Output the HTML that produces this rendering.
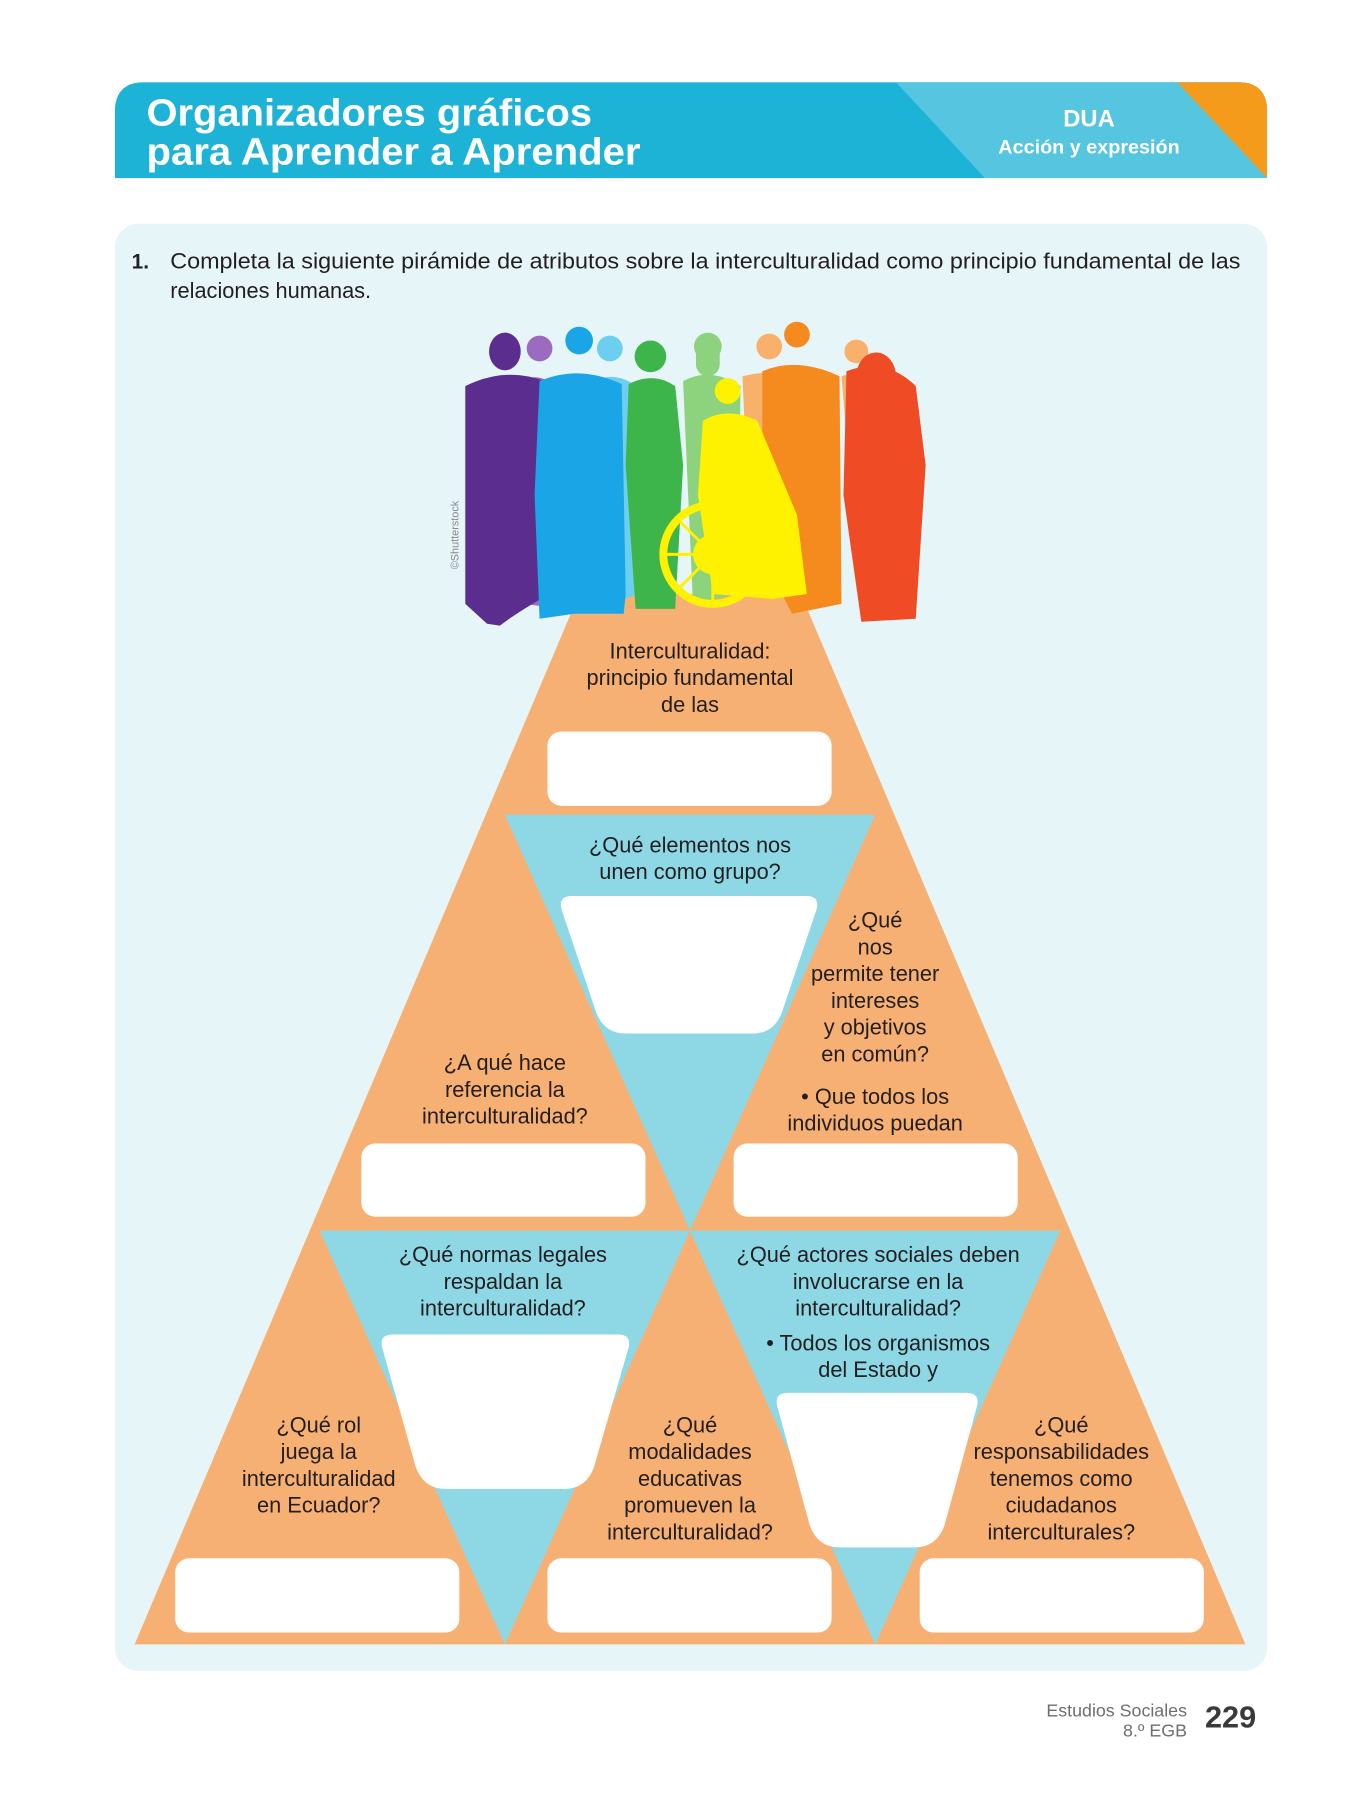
<!DOCTYPE html>
<html><head><meta charset="utf-8"><style>
html,body{margin:0;padding:0;background:#fff;}
svg{display:block;}
text{font-family:"Liberation Sans Narrow","Liberation Sans",sans-serif;fill:#231f20;}
</style></head><body>
<svg width="1350" height="1800" viewBox="0 0 1350 1800" xmlns="http://www.w3.org/2000/svg">
<g transform="scale(0.99)">
<defs><clipPath id="hc"><path d="M116 180 V113 Q116 83 146 83 H1250 Q1280 83 1280 113 V180 Z"/></clipPath></defs>
<g clip-path="url(#hc)">
<rect x="116" y="83" width="1164" height="97" fill="#1db3d6"/>
<polygon points="905,83 1280,83 1280,180 995,180" fill="#55c5e0"/>
<polygon points="1189,83 1280,83 1280,180" fill="#f59b1c"/>
</g>
<text x="148" y="127" font-size="38" font-weight="bold" textLength="450" lengthAdjust="spacingAndGlyphs" style="fill:#fff;font-family:'Liberation Sans',sans-serif">Organizadores gráficos</text>
<text x="148" y="166" font-size="38" font-weight="bold" textLength="499" lengthAdjust="spacingAndGlyphs" style="fill:#fff;font-family:'Liberation Sans',sans-serif">para Aprender a Aprender</text>
<text x="1100" y="128" font-size="24" font-weight="bold" text-anchor="middle" style="fill:#fff;font-family:'Liberation Sans',sans-serif">DUA</text>
<text x="1100" y="155" font-size="20" font-weight="bold" text-anchor="middle" style="fill:#fff;font-family:'Liberation Sans',sans-serif">Acción y expresión</text>

<rect x="116" y="226" width="1164" height="1462" rx="24" fill="#e6f5f8"/>
<text x="133" y="271" font-size="21" font-weight="bold" style="font-family:'Liberation Sans',sans-serif">1.</text>
<text x="172" y="271" font-size="22" textLength="1081" lengthAdjust="spacingAndGlyphs">Completa la siguiente pirámide de atributos sobre la interculturalidad como principio fundamental de las</text>
<text x="172" y="301" font-size="22">relaciones humanas.</text>

<polygon points="585,600 809,600 1258,1661 136,1661" fill="#f7b074"/>
<polygon points="510,823 884,823 697,1243" fill="#8ed8e6"/>
<polygon points="323,1243 697,1243 510,1661" fill="#8ed8e6"/>
<polygon points="697,1243 1071,1243 884,1661" fill="#8ed8e6"/>

<g fill="#fff">
<rect x="553" y="739" width="287" height="75" rx="14"/>
<rect x="365" y="1155" width="287" height="74" rx="14"/>
<rect x="741" y="1155" width="287" height="74" rx="14"/>
<rect x="177" y="1574" width="287" height="75" rx="14"/>
<rect x="553" y="1574" width="287" height="75" rx="14"/>
<rect x="929" y="1574" width="287" height="75" rx="14"/>
<path d="M578 905 H814 Q828 905 825 918 L790 1022 Q782 1044 760 1044 H632 Q610 1044 602 1022 L567 918 Q564 905 578 905 Z"/>
<path d="M397 1348 H624 Q638 1348 635 1361 L600 1482 Q592 1504 570 1504 H450 Q428 1504 420 1482 L386 1361 Q383 1348 397 1348 Z"/>
<path d="M796 1407 H976 Q990 1407 987 1420 L954 1541 Q946 1563 924 1563 H848 Q826 1563 818 1541 L785 1420 Q782 1407 796 1407 Z"/>
</g>

<g>
<path d="M525 385 Q545 375 560 390 L565 600 L545 612 L528 610 Z" fill="#9b6bc0"/><circle cx="545" cy="352" r="13" fill="#9b6bc0"/>
<path d="M600 385 Q620 375 640 388 L645 600 L610 612 L600 600 Z" fill="#6ccff0"/><circle cx="616" cy="352" r="13" fill="#6ccff0"/>
<path d="M690 385 Q718 370 748 390 L745 600 L700 610 Z" fill="#8dd27c"/><circle cx="715" cy="350" r="14" fill="#8dd27c"/><rect x="703" y="340" width="24" height="40" rx="12" fill="#8dd27c"/>
<path d="M750 380 Q790 370 800 390 L805 610 L760 610 Z" fill="#f9b06a"/><circle cx="777" cy="350" r="13" fill="#f9b06a"/>
<path d="M850 380 Q880 370 905 400 L915 610 L870 620 Z" fill="#f9b06a"/><circle cx="865" cy="355" r="12" fill="#f9b06a"/>
<path d="M470 390 Q510 370 550 385 L560 430 L555 600 Q520 620 505 632 L492 630 L470 610 Z" fill="#5b2d8e"/><ellipse cx="510" cy="355" rx="16" ry="19" fill="#5b2d8e"/>
<path d="M545 385 Q585 368 628 388 L632 600 L630 620 L580 620 L545 625 L540 500 Z" fill="#1aa6e6"/><circle cx="585" cy="344" r="14" fill="#1aa6e6"/>
<path d="M635 388 Q660 375 682 390 L690 470 L682 615 L642 615 L632 470 Z" fill="#3db54a"/><circle cx="657" cy="360" r="16" fill="#3db54a"/>
<path d="M770 375 Q805 360 848 380 L850 610 L800 620 L770 560 Z" fill="#f58a1f"/><circle cx="805" cy="338" r="13" fill="#f58a1f"/>
<path d="M855 375 Q895 360 925 390 L935 470 L925 625 L870 628 L852 500 Z" fill="#ef4b25"/><ellipse cx="885" cy="380" rx="20" ry="24" fill="#ef4b25"/>
<path d="M710 425 Q735 410 765 425 L805 520 L815 600 L780 605 L720 600 L705 500 Z" fill="#fff200"/><circle cx="735" cy="395" r="13" fill="#fff200"/>
<circle cx="720" cy="560" r="50" fill="none" stroke="#fff200" stroke-width="8"/><circle cx="720" cy="560" r="20" fill="#fff200"/>
<g stroke="#fff200" stroke-width="3"><line x1="670" y1="560" x2="770" y2="560"/><line x1="720" y1="510" x2="720" y2="610"/><line x1="685" y1="525" x2="755" y2="595"/><line x1="755" y1="525" x2="685" y2="595"/></g>
</g>
<text transform="translate(463,575) rotate(-90)" font-size="11" style="fill:#888;font-family:'Liberation Sans',sans-serif">©Shutterstock</text>

<g font-size="22" text-anchor="middle">
<text x="697" y="665">Interculturalidad:</text>
<text x="697" y="692">principio fundamental</text>
<text x="697" y="719">de las</text>
<text x="697" y="861">¿Qué elementos nos</text>
<text x="697" y="888">unen como grupo?</text>
<text x="884" y="937">¿Qué</text>
<text x="884" y="964">nos</text>
<text x="884" y="991">permite tener</text>
<text x="884" y="1018">intereses</text>
<text x="884" y="1045">y objetivos</text>
<text x="884" y="1072">en común?</text>
<text x="884" y="1115">• Que todos los</text>
<text x="884" y="1142">individuos puedan</text>
<text x="510" y="1081">¿A qué hace</text>
<text x="510" y="1108">referencia la</text>
<text x="510" y="1135">interculturalidad?</text>
<text x="508" y="1275">¿Qué normas legales</text>
<text x="508" y="1302">respaldan la</text>
<text x="508" y="1329">interculturalidad?</text>
<text x="887" y="1275">¿Qué actores sociales deben</text>
<text x="887" y="1302">involucrarse en la</text>
<text x="887" y="1329">interculturalidad?</text>
<text x="887" y="1364">• Todos los organismos</text>
<text x="887" y="1391">del Estado y</text>
<text x="322" y="1447">¿Qué rol</text>
<text x="322" y="1474">juega la</text>
<text x="322" y="1501">interculturalidad</text>
<text x="322" y="1528">en Ecuador?</text>
<text x="697" y="1447">¿Qué</text>
<text x="697" y="1474">modalidades</text>
<text x="697" y="1501">educativas</text>
<text x="697" y="1528">promueven la</text>
<text x="697" y="1555">interculturalidad?</text>
<text x="1072" y="1447">¿Qué</text>
<text x="1072" y="1474">responsabilidades</text>
<text x="1072" y="1501">tenemos como</text>
<text x="1072" y="1528">ciudadanos</text>
<text x="1072" y="1555">interculturales?</text>
</g>

<text x="1199" y="1734" font-size="18" text-anchor="end" style="fill:#6d6e71;font-family:'Liberation Sans',sans-serif">Estudios Sociales</text>
<text x="1199" y="1754" font-size="18" text-anchor="end" style="fill:#6d6e71;font-family:'Liberation Sans',sans-serif">8.º EGB</text>
<text x="1243" y="1745" font-size="31" font-weight="bold" text-anchor="middle" style="fill:#3a3a3c;font-family:'Liberation Sans',sans-serif">229</text>
</g>
</svg>
</body></html>
